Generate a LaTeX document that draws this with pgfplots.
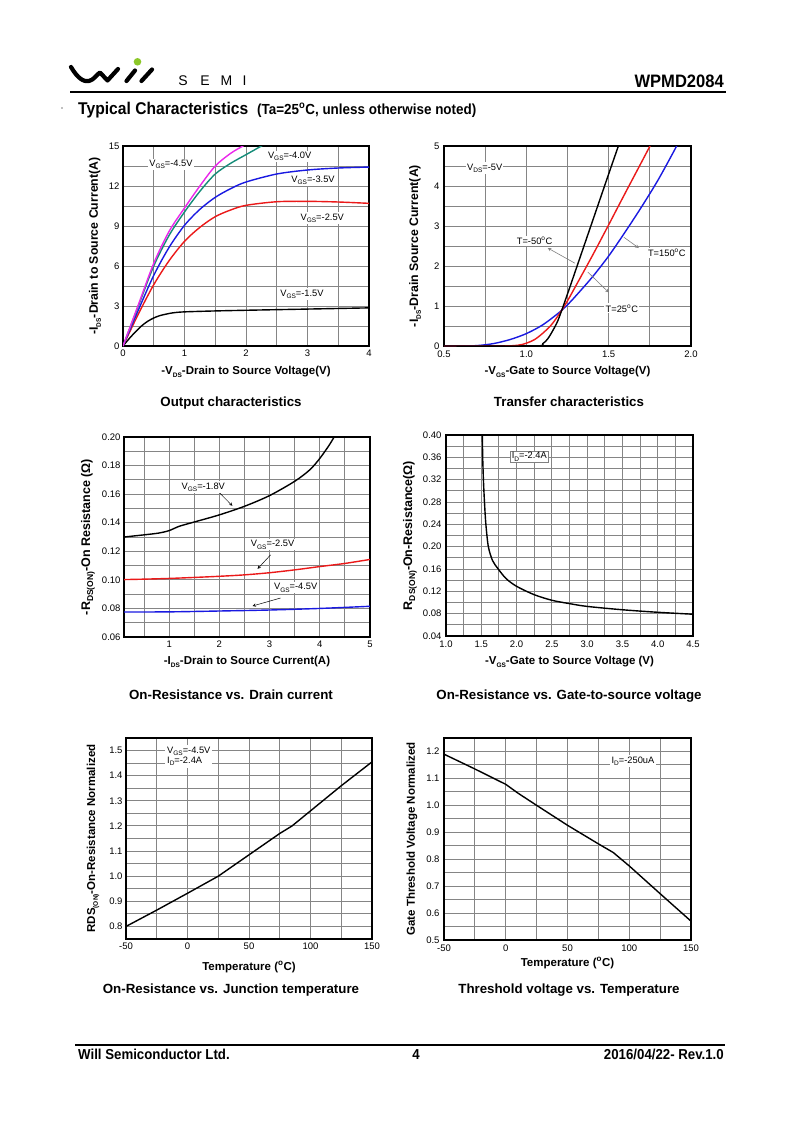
\documentclass[border=0pt]{standalone}
\usepackage{pgfplots}
\pgfplotsset{compat=1.18}
\usepackage{fontspec}
\setmainfont{Liberation Sans}
\newfontfamily\hdr[FakeStretch=0.92]{Liberation Sans}

\newcommand\fsz[1]{\fontsize{#1}{#1}\selectfont}
\newcommand\sbs[1]{\raisebox{-0.45ex}{\fontsize{6.5}{6.5}\selectfont #1}}
\newcommand\sbl[1]{\raisebox{-0.45ex}{\fontsize{8.5}{8.5}\selectfont #1}}
\newcommand\dg{\textsuperscript{o}}

\definecolor{gridc}{gray}{0.52}
\definecolor{vmag}{RGB}{235,40,235}
\definecolor{vteal}{RGB}{20,140,120}
\definecolor{vblue}{RGB}{25,25,225}
\definecolor{vred}{RGB}{235,25,25}
\definecolor{logog}{RGB}{140,200,40}

\pgfplotsset{
  ds/.style={
    scale only axis,
    axis line style={line width=1.2pt},
    major tick length=0pt, minor tick length=0pt,
    grid=both,
    major grid style={draw=gridc, line width=1pt},
    minor grid style={draw=gridc, line width=1pt},
    tick label style={font=\fsz{9.5}},
    xlabel style={font=\bfseries\fsz{11.5}},
    ylabel style={font=\bfseries\fsz{11.5}},
    /pgf/number format/assume math mode=true,
    every axis plot/.append style={line width=1.4pt},
  },
}
\tikzset{
  lbl/.style={fill=white, inner sep=1.2pt, font=\fsz{9.3}},
  pinb/.style={-stealth, black, line width=0.5pt},
  ping/.style={-stealth, gray, line width=0.6pt},
}

\begin{document}
\begin{tikzpicture}[x=1pt,y=-1pt]
\fill[white] (0,0) rectangle (800,1132);

% header
\draw[line width=4.2pt, line cap=round, line join=round]
  (71,67) .. controls (78,79) and (84,82) .. (89,81)
  .. controls (94,80) and (97,74) .. (100,72.5)
  -- (107.5,80.5) -- (118,69);
\draw[line width=4.2pt, line cap=round] (126.5,81) -- (135,70.5);
\draw[line width=4.2pt, line cap=round] (141.5,81) -- (152,69.5);
\fill[logog] (137.5,61.8) circle (3.8);
\foreach \c/\x in {S/183,E/205,M/226.5,I/244.5}
  \node[anchor=base, inner sep=0, font=\fsz{14}] at (\x,85) {\c};
\node[anchor=base east, inner sep=0, font=\hdr\bfseries\fsz{18}] at (724,87) {WPMD2084};
\draw[line width=2.5pt] (70,92) -- (726,92);
\fill[gray] (62,108) circle (0.9);
\node[anchor=base west, inner sep=0, font=\hdr\bfseries\fsz{17}] at (78,114) {Typical Characteristics};
\node[anchor=base west, inner sep=0, font=\hdr\bfseries\fsz{14.6}] at (257,114) {(Ta=25\dg C, unless otherwise noted)};

% 1 output characteristics
\begin{axis}[ds, at={(123pt,-146pt)}, anchor=north west, width=246pt, height=200pt,
  xmin=0, xmax=4, ymin=0, ymax=15,
  xtick={0,1,2,3,4}, minor xtick={0.5,1.5,2.5,3.5},
  ytick={0,3,6,9,12,15}, minor ytick={1.5,4.5,7.5,10.5,13.5},
  xlabel={-V\sbs{DS}-Drain to Source Voltage(V)},
  ylabel={-I\sbs{DS}-Drain to Source Current(A)},
  xlabel style={at={(axis description cs:0.5,-0.13)}, anchor=center},
  ylabel style={at={(axis description cs:-0.114,0.5)}, anchor=center, font=\bfseries\fsz{12.3}}]
\addplot[black, smooth] coordinates {(0,0) (0.1,0.55) (0.2,1.05) (0.3,1.5) (0.4,1.85) (0.5,2.1) (0.6,2.28) (0.8,2.48) (1.0,2.56) (1.5,2.63) (2,2.68) (3,2.77) (4,2.86)};
\addplot[vred, smooth] coordinates {(0,0) (0.25,2.4) (0.5,4.6) (0.75,6.4) (1.0,7.85) (1.25,8.9) (1.5,9.7) (1.75,10.2) (2,10.55) (2.5,10.82) (3,10.85) (3.5,10.8) (4,10.7)};
\addplot[vblue, smooth] coordinates {(0,0) (0.25,2.7) (0.5,5.3) (0.75,7.4) (1,9.05) (1.25,10.25) (1.5,11.15) (1.75,11.8) (2,12.3) (2.5,12.9) (3,13.2) (3.5,13.35) (4,13.42)};
\addplot[vteal, smooth] coordinates {(0,0) (0.25,3.0) (0.5,6.0) (0.75,8.3) (1,10.05) (1.25,11.6) (1.5,12.9) (1.75,13.7) (2,14.35) (2.25,15.0) (2.4,15.4)};
\addplot[vmag, smooth] coordinates {(0,0) (0.25,3.1) (0.5,6.2) (0.75,8.6) (1,10.35) (1.25,12.0) (1.5,13.5) (1.75,14.45) (1.95,15.0) (2.05,15.3)};
\node[lbl] at (axis cs:0.78,13.6) {V\sbs{GS}=-4.5V};
\node[lbl] at (axis cs:2.71,14.2) {V\sbs{GS}=-4.0V};
\node[lbl] at (axis cs:3.09,12.45) {V\sbs{GS}=-3.5V};
\node[lbl] at (axis cs:3.24,9.6) {V\sbs{GS}=-2.5V};
\node[lbl] at (axis cs:2.91,3.9) {V\sbs{GS}=-1.5V};
\end{axis}

% 2 transfer characteristics
\begin{axis}[ds, at={(444pt,-146pt)}, anchor=north west, width=247pt, height=200pt,
  xmin=0.5, xmax=2.0, ymin=0, ymax=5,
  xtick={0.5,1.0,1.5,2.0}, minor xtick={0.75,1.25,1.75},
  ytick={0,1,2,3,4,5}, minor ytick={0.5,1.5,2.5,3.5,4.5},
  xticklabel style={yshift=-1.5pt, /pgf/number format/.cd, fixed, fixed zerofill, precision=1},
  yticklabel style={xshift=-1pt},
  xlabel={-V\sbs{GS}-Gate to Source Voltage(V)},
  ylabel={-I\sbs{DS}-Drain Source Current(A)},
  xlabel style={at={(axis description cs:0.5,-0.13)}, anchor=center},
  ylabel style={at={(axis description cs:-0.117,0.5)}, anchor=center, font=\bfseries\fsz{12.3}}]
\addplot[vblue, smooth] coordinates {(0.5,0) (0.6,0) (0.7,0.01) (0.8,0.06) (0.9,0.16) (1.0,0.31) (1.1,0.53) (1.2,0.84) (1.25,1.03) (1.3,1.25) (1.4,1.72) (1.5,2.25) (1.6,2.85) (1.7,3.48) (1.8,4.15) (1.9,4.9) (1.93,5.15)};
\addplot[vred, smooth] coordinates {(0.5,0) (0.85,0) (0.95,0.02) (1.0,0.07) (1.05,0.16) (1.1,0.32) (1.15,0.52) (1.2,0.8) (1.25,1.13) (1.3,1.5) (1.4,2.25) (1.5,3.03) (1.6,3.82) (1.7,4.6) (1.77,5.15)};
\addplot[black, smooth] coordinates {(0.5,0) (1.05,0) (1.1,0.06) (1.13,0.18) (1.16,0.38) (1.19,0.62) (1.22,0.95) (1.26,1.42) (1.3,1.9) (1.4,3.1) (1.5,4.3) (1.58,5.25)};
\node[lbl] at (axis cs:0.747,4.45) {V\sbs{DS}=-5V};
\draw[ping] (axis cs:1.295,2.07) -- (axis cs:1.13,2.45);
\node[lbl] at (axis cs:1.05,2.62) {T=-50\dg C};
\draw[ping] (axis cs:1.592,2.72) -- (axis cs:1.683,2.45);
\node[lbl] at (axis cs:1.853,2.32) {T=150\dg C};
\draw[ping] (axis cs:1.373,1.85) -- (axis cs:1.50,1.34);
\node[lbl] at (axis cs:1.58,0.94) {T=25\dg C};
\end{axis}

% 3 on-resistance vs drain current
\begin{axis}[ds, at={(124pt,-437pt)}, anchor=north west, width=246pt, height=200pt,
  xmin=0.1, xmax=5, ymin=0.06, ymax=0.20,
  xtick={1,2,3,4,5}, minor xtick={0.5,1.5,2.5,3.5,4.5},
  ytick={0.06,0.08,0.10,0.12,0.14,0.16,0.18,0.20}, minor ytick={0.07,0.09,0.11,0.13,0.15,0.17,0.19},
  yticklabel style={/pgf/number format/.cd, fixed, fixed zerofill, precision=2},
  xlabel={-I\sbs{DS}-Drain to Source Current(A)},
  ylabel={-R\sbl{DS(ON)}-On Resistance (Ω)},
  xlabel style={at={(axis description cs:0.5,-0.125)}, anchor=center},
  ylabel style={at={(axis description cs:-0.146,0.5)}, anchor=center, font=\bfseries\fsz{12.5}}]
\addplot[black, smooth] coordinates {(0.1,0.130) (0.5,0.1315) (0.8,0.1328) (1.0,0.1345) (1.2,0.1375) (1.5,0.1405) (2.0,0.1455) (2.5,0.1515) (3.0,0.159) (3.5,0.169) (3.8,0.177) (4.0,0.185) (4.2,0.195) (4.35,0.204)};
\addplot[vred, smooth] coordinates {(0.1,0.1002) (0.5,0.1005) (1,0.101) (1.5,0.1017) (2,0.1025) (2.5,0.1035) (3,0.105) (3.5,0.107) (4,0.1093) (4.5,0.1115) (5,0.1143)};
\addplot[vblue, smooth] coordinates {(0.1,0.0775) (1,0.0776) (2,0.0782) (3,0.0789) (4,0.0800) (5,0.0815)};
\draw[pinb] (axis cs:2.0,0.161) -- (axis cs:2.26,0.1518);
\node[lbl] at (axis cs:1.68,0.165) {V\sbs{GS}=-1.8V};
\draw[pinb] (axis cs:3.02,0.1175) -- (axis cs:2.76,0.1077);
\node[lbl] at (axis cs:3.06,0.1245) {V\sbs{GS}=-2.5V};
\draw[pinb] (axis cs:3.22,0.0873) -- (axis cs:2.66,0.0817);
\node[lbl] at (axis cs:3.52,0.0944) {V\sbs{GS}=-4.5V};
\end{axis}

% 4 on-resistance vs gate-source voltage
\begin{axis}[ds, at={(446pt,-435pt)}, anchor=north west, width=247pt, height=201pt,
  xmin=1, xmax=4.5, ymin=0.04, ymax=0.40,
  xtick={1.0,1.5,2.0,2.5,3.0,3.5,4.0,4.5}, minor xtick={1.25,1.75,2.25,2.75,3.25,3.75,4.25},
  ytick={0.04,0.08,0.12,0.16,0.20,0.24,0.28,0.32,0.36,0.40}, minor ytick={0.06,0.10,0.14,0.18,0.22,0.26,0.30,0.34,0.38},
  xticklabel style={yshift=-1.5pt, /pgf/number format/.cd, fixed, fixed zerofill, precision=1},
  yticklabel style={xshift=-1pt, /pgf/number format/.cd, fixed, fixed zerofill, precision=2},
  xlabel={-V\sbs{GS}-Gate to Source Voltage (V)},
  ylabel={R\sbl{DS(ON)}-On-Resistance(Ω)},
  xlabel style={at={(axis description cs:0.5,-0.129)}, anchor=center},
  ylabel style={at={(axis description cs:-0.146,0.5)}, anchor=center, font=\bfseries\fsz{12.5}}]
\addplot[black, smooth, tension=0.5] coordinates {(1.513,0.41) (1.515,0.40) (1.52,0.36) (1.53,0.32) (1.545,0.28) (1.565,0.24) (1.60,0.20) (1.66,0.175) (1.74,0.16) (1.85,0.143) (2.0,0.129) (2.25,0.114) (2.5,0.104) (2.75,0.098) (3.0,0.093) (3.5,0.087) (4.0,0.0825) (4.5,0.079)};
\node[lbl, draw=gray, line width=0.4pt] at (axis cs:2.18,0.361) {I\sbs{D}=-2.4A};
\end{axis}

% 5 on-resistance vs junction temperature
\begin{axis}[ds, at={(126pt,-738pt)}, anchor=north west, width=246pt, height=201pt,
  xmin=-50, xmax=150, ymin=0.75, ymax=1.55,
  xtick={-50,0,50,100,150}, minor xtick={-25,25,75,125},
  ytick={0.8,0.9,1.0,1.1,1.2,1.3,1.4,1.5}, minor ytick={0.85,0.95,1.05,1.15,1.25,1.35,1.45},
  yticklabel style={/pgf/number format/.cd, fixed, fixed zerofill, precision=1},
  xlabel={Temperature (\dg C)},
  ylabel={RDS\sbs{(ON)}-On-Resistance Normalized},
  xlabel style={at={(axis description cs:0.5,-0.139)}, anchor=center},
  ylabel style={at={(axis description cs:-0.134,0.5)}, anchor=center}]
\addplot[black] coordinates {(-50,0.80) (-25,0.865) (0,0.932) (25,1.0) (50,1.085) (75,1.17) (85,1.20) (100,1.26) (125,1.36) (150,1.455)};
\node[lbl, anchor=north west, align=left, inner sep=2pt] at (axis cs:-18.3,1.523) {V\sbs{GS}=-4.5V\\[1pt]I\sbs{D}=-2.4A};
\end{axis}

% 6 threshold voltage vs temperature
\begin{axis}[ds, at={(444pt,-738pt)}, anchor=north west, width=247pt, height=202pt,
  xmin=-50, xmax=150, ymin=0.5, ymax=1.25,
  xtick={-50,0,50,100,150}, minor xtick={-25,25,75,125},
  ytick={0.5,0.6,0.7,0.8,0.9,1.0,1.1,1.2}, minor ytick={0.55,0.65,0.75,0.85,0.95,1.05,1.15},
  xticklabel style={yshift=-1.5pt},
  yticklabel style={xshift=-1pt, /pgf/number format/.cd, fixed, fixed zerofill, precision=1},
  xlabel={Temperature (\dg C)},
  ylabel={Gate Threshold Voltage Normalized},
  xlabel style={at={(axis description cs:0.5,-0.114)}, anchor=center},
  ylabel style={at={(axis description cs:-0.13,0.5)}, anchor=center}]
\addplot[black] coordinates {(-50,1.19) (-25,1.135) (0,1.078) (10,1.045) (25,1.0) (50,0.926) (75,0.857) (87,0.825) (100,0.775) (125,0.672) (150,0.57)};
\node[lbl, inner sep=2pt] at (axis cs:103,1.165) {I\sbs{D}=-250uA};
\end{axis}

% captions
\foreach \x/\y/\t in {231/406/Output characteristics, 569/406/Transfer characteristics,
  231/699/On-Resistance vs. Drain current, 569/699/On-Resistance vs. Gate-to-source voltage,
  231/993/On-Resistance vs. Junction temperature, 569/993/Threshold voltage vs. Temperature}
  \node[anchor=base, inner sep=0, font=\bfseries\fsz{13.3}] at (\x,\y) {\t};

% footer
\draw[line width=2.5pt] (75,1045) -- (725,1045);
\node[anchor=base west, inner sep=0, font=\hdr\bfseries\fsz{14.4}] at (78,1059) {Will Semiconductor Ltd.};
\node[anchor=base, inner sep=0, font=\hdr\bfseries\fsz{14.4}] at (416,1059) {4};
\node[anchor=base east, inner sep=0, font=\hdr\bfseries\fsz{14.4}] at (724,1059) {2016/04/22- Rev.1.0};
\end{tikzpicture}
\end{document}
